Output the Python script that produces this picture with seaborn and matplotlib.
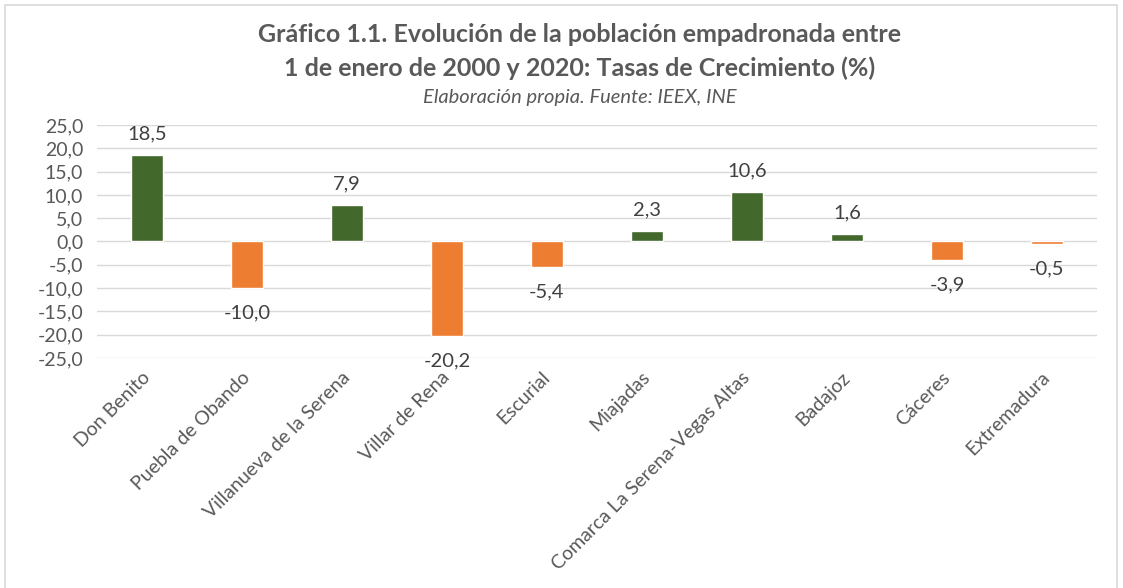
import numpy as np
import pandas as pd
import seaborn as sns
import matplotlib.pyplot as plt
from matplotlib.ticker import FuncFormatter
from matplotlib.patches import Rectangle

# data
municipios = ["Don Benito", "Puebla de Obando", "Villanueva de la Serena",
              "Villar de Rena", "Escurial", "Miajadas",
              "Comarca La Serena-Vegas Altas", "Badajoz", "Cáceres", "Extremadura"]
tasas = [18.5, -10.0, 7.9, -20.2, -5.4, 2.3, 10.6, 1.6, -3.9, -0.5]

df = pd.DataFrame({"Municipio": municipios, "Tasa": tasas})
df["Signo"] = np.where(df["Tasa"] >= 0, "pos", "neg")

sns.set_theme(style="white")
plt.rcParams['font.family'] = ['Lato', 'DejaVu Sans']
gris = "#595959"

fig = plt.figure(figsize=(11.23, 5.88), dpi=100)
ax = fig.add_axes([0.0864, 0.3912, 0.8904, 0.3962])

sns.barplot(data=df, x="Municipio", y="Tasa", hue="Signo",
            palette={"pos": "#43682B", "neg": "#ED7D31"}, saturation=1,
            width=0.32, dodge=False, legend=False, ax=ax, zorder=3)

ax.set_ylim(-25, 25)
ax.set_yticks(np.arange(-25, 26, 5))
ax.yaxis.set_major_formatter(FuncFormatter(lambda v, p: f"{v:.1f}".replace(".", ",")))
ax.grid(axis="y", color="#D9D9D9", linewidth=1, zorder=0)
ax.set_xlim(-0.5, len(municipios) - 0.5)
for s in ax.spines.values():
    s.set_visible(False)
ax.tick_params(axis="both", length=0, labelsize=14, labelcolor=gris)
ax.tick_params(axis="y", pad=10)
ax.tick_params(axis="x", pad=12)
ax.set_xlabel("")
ax.set_ylabel("")
plt.setp(ax.get_xticklabels(), rotation=45, ha="right", va="center",
         rotation_mode="anchor")

# data labels
for i, v in enumerate(tasas):
    txt = f"{v:.1f}".replace(".", ",")
    if v >= 0:
        ax.annotate(txt, (i, v), xytext=(0, 9), textcoords="offset points",
                    ha="center", va="bottom", fontsize=14.5, color="#404040")
    else:
        ax.annotate(txt, (i, v), xytext=(0, -12), textcoords="offset points",
                    ha="center", va="top", fontsize=14.5, color="#404040")

fig.text(0.516, 1 - 35 / 588, "Gráfico 1.1. Evolución de la población empadronada entre",
         ha="center", va="center", fontsize=18, fontweight="bold", color=gris)
fig.text(0.516, 1 - 68 / 588, "1 de enero de 2000 y 2020: Tasas de Crecimiento (%)",
         ha="center", va="center", fontsize=18, fontweight="bold", color=gris)
fig.text(0.516, 1 - 97 / 588, "Elaboración propia. Fuente: IEEX, INE",
         ha="center", va="center", fontsize=14.5, style="italic", color=gris)

# chart border
fig.patches.append(Rectangle((5 / 1123, -0.01), 1112 / 1123, 1 - 5 / 588 + 0.01,
                             transform=fig.transFigure, fill=False,
                             edgecolor="#D9D9D9", linewidth=1.2))

fig.savefig("out.png", dpi=100)
